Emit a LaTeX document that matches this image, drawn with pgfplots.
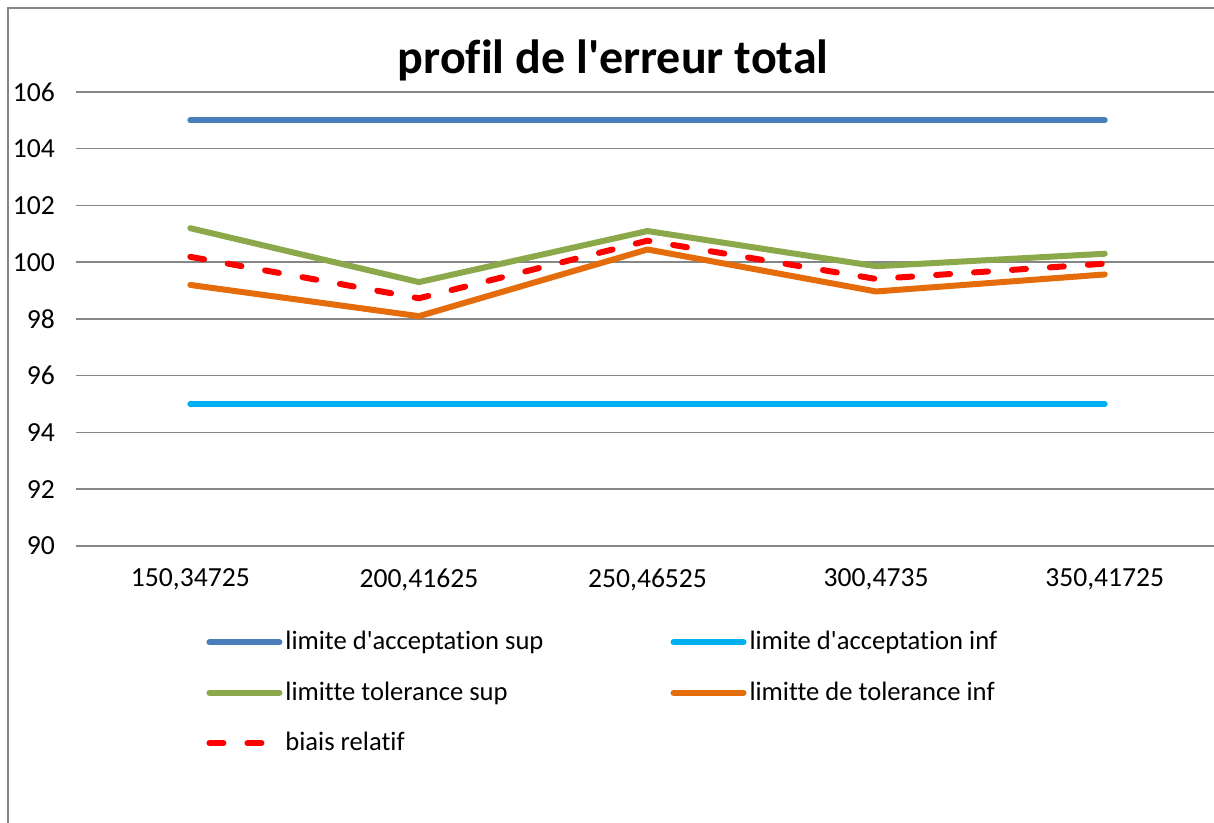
\documentclass[border=0pt]{standalone}
\usepackage{fontspec}
\setmainfont{Carlito}[Ligatures={TeXOff,CommonOff}]
\usepackage{pgfplots}
\pgfplotsset{compat=1.18}
\definecolor{cblue}{HTML}{4A7EBB}
\definecolor{ccyan}{HTML}{00B0F0}
\definecolor{cgreen}{HTML}{8BA84A}
\definecolor{corange}{HTML}{E46C0A}
\definecolor{cgrid}{HTML}{868686}
\begin{document}
\begin{tikzpicture}
\path[use as bounding box] (-38pt,-138.5pt) rectangle (569pt,273pt);
% chart frame (left and top edges visible)
\draw[cgrid, line width=0.9pt] (-34pt,-140pt) -- (-34pt,269pt) -- (572pt,269pt);
\begin{axis}[
  at={(0pt,0pt)}, anchor=south west,
  scale only axis, width=569pt, height=227pt,
  xmin=-0.5, xmax=4.478, ymin=90, ymax=106,
  ytick={90,92,...,106},
  xtick={0,1,2,3,4},
  xticklabels={{150,34725},{200,41625},{250,46525},{300,4735},{350,41725}},
  axis line style={draw=none},
  major tick length=0pt,
  ymajorgrids, grid style={cgrid, line width=0.75pt},
  /pgf/number format/assume math mode=true,
  ticklabel style={font=\fontsize{13.8}{16}\selectfont},
  yticklabel style={xshift=-7pt},
  xticklabel style={yshift=-8pt},
  clip=false,
  legend columns=2,
  legend cell align=left,
  legend style={draw=none, fill=none, at={(0.109,-0.172)}, anchor=north west,
    font=\fontsize{13.3}{15}\selectfont, row sep=11.5pt,
    /tikz/every even column/.append style={column sep=62pt},
    nodes={inner sep=1.5pt}},
  legend image code/.code={\draw[#1] (0pt,0pt) -- (35pt,0pt);},
  every axis plot/.append style={line width=3pt, line cap=round, line join=round},
]
\addplot[cblue] coordinates {(0,105) (1,105) (2,105) (3,105) (4,105)};
\addlegendentry{limite d'acceptation sup}
\addplot[ccyan] coordinates {(0,95) (1,95) (2,95) (3,95) (4,95)};
\addlegendentry{limite d'acceptation inf}
\addplot[cgreen] coordinates {(0,101.2) (1,99.3) (2,101.1) (3,99.86) (4,100.3)};
\addlegendentry{limitte tolerance sup}
\addplot[corange] coordinates {(0,99.2) (1,98.1) (2,100.45) (3,98.97) (4,99.57)};
\addlegendentry{limitte de tolerance inf}
\addplot[red, dash pattern=on 7pt off 12pt] coordinates {(0,100.19) (1,98.73) (2,100.76) (3,99.41) (4,99.95)};
\addlegendentry{biais relatif}
\node[font=\bfseries\fontsize{24}{28}\selectfont] at (rel axis cs:0.472,1.07) {profil de l'erreur total};
\end{axis}
\end{tikzpicture}
\end{document}
